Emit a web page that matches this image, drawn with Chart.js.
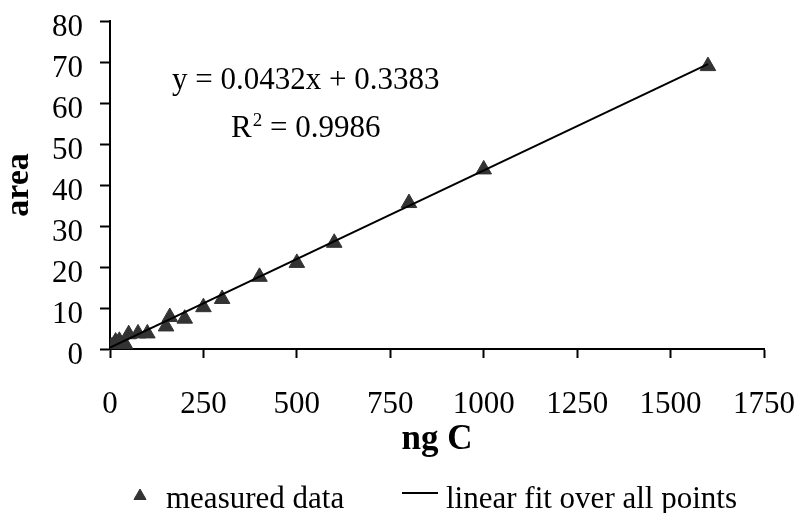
<!DOCTYPE html>
<html>
<head>
<meta charset="utf-8">
<script src="https://cdn.jsdelivr.net/npm/chart.js@4/dist/chart.umd.min.js"></script>
<style>
    html, body { margin: 0; padding: 0; background: #fff; }
    #wrap { width: 798px; height: 513px; }
</style>
</head>
<body>
<div id="wrap"><canvas id="calibChart" width="798" height="513"></canvas></div>
<script>
// measured calibration points
const massNgC = [0, 2, 5, 10, 15, 20, 25, 40, 50, 75, 100, 150, 160, 200, 250, 300, 400, 500, 600, 800, 1000, 1600];
const peakArea = [0.2, 0.4, 0.6, 1.0, 1.8, 1.3, 2.0, 1.2, 3.6, 3.8, 3.8, 5.5, 7.8, 7.4, 10.2, 12.2, 17.6, 21.0, 25.9, 35.6, 43.8, 69.0];

// linear fit over all points, end points of the drawn line
const fitX = [0, 1600];
const fitY = [0.34, 69.46];

// axis ticks
const xTicks = [0, 250, 500, 750, 1000, 1250, 1500, 1750];
const yTicks = [0, 10, 20, 30, 40, 50, 60, 70, 80];

const serif = '"Liberation Serif", "Times New Roman", serif';

// equation text + legend, drawn the way the spreadsheet did
const calibText = {
    id: 'calibText',
    afterDraw(chart) {
        const ctx = chart.ctx;
        ctx.save();
        ctx.fillStyle = '#000';
        ctx.textBaseline = 'alphabetic';
        ctx.textAlign = 'left';

        // trendline label
        ctx.font = '31px ' + serif;
        ctx.fillText('y = 0.0432x + 0.3383', 172, 89);
        ctx.fillText('R', 231, 137);
        let x = 231 + ctx.measureText('R').width;
        ctx.font = '19px ' + serif;
        ctx.fillText('2', x + 1, 126);
        x += 1 + ctx.measureText('2').width;
        ctx.font = '31px ' + serif;
        ctx.fillText(' = 0.9986', x, 137);

        // legend
        const ds = chart.data.datasets;
        ctx.fillStyle = ds[0].backgroundColor;
        ctx.strokeStyle = ds[0].borderColor;
        Chart.helpers.drawPoint(ctx, { pointStyle: 'triangle', radius: 7, borderWidth: 1 }, 140, 496);
        ctx.fillStyle = '#000';
        ctx.fillText(ds[0].label, 166, 508);

        ctx.strokeStyle = ds[1].borderColor;
        ctx.lineWidth = 2;
        ctx.beginPath();
        ctx.moveTo(402, 493);
        ctx.lineTo(438, 493);
        ctx.stroke();
        ctx.fillText(ds[1].label, 446, 508);
        ctx.restore();
    }
};

const ctx = document.getElementById('calibChart').getContext('2d');

new Chart(ctx, {
    type: 'scatter',
    data: {
        datasets: [
            {
                label: 'measured data',
                data: massNgC.map((m, i) => ({ x: m, y: peakArea[i] })),
                pointStyle: 'triangle',
                pointRadius: 9,
                backgroundColor: '#333333',
                borderColor: '#333333',
                borderWidth: 1,
                order: 2
            },
            {
                label: 'linear fit over all points',
                type: 'line',
                data: fitX.map((m, i) => ({ x: m, y: fitY[i] })),
                borderColor: '#000000',
                borderWidth: 2,
                pointRadius: 0,
                fill: false,
                order: 1
            }
        ]
    },
    options: {
        responsive: false,
        animation: false,
        layout: { padding: { top: 21, right: 34, left: 0, bottom: 0 } },
        plugins: {
            legend: { display: false },
            tooltip: { enabled: false }
        },
        scales: {
            x: {
                type: 'linear',
                min: 0,
                max: 1750,
                afterBuildTicks: scale => { scale.ticks = xTicks.map(v => ({ value: v })); },
                afterFit: scale => {
                    scale.height = 164;
                    scale.paddingLeft = 0;
                    scale.paddingRight = 0;
                },
                grid: { drawOnChartArea: false, drawTicks: true, tickLength: 9, color: '#000', tickWidth: 2 },
                border: { display: true, color: '#000', width: 2 },
                ticks: {
                    color: '#000', font: { family: serif, size: 31 }, padding: 28,
                    maxRotation: 0, autoSkip: false, callback: v => String(v)
                },
                title: {
                    display: true,
                    text: 'ng C',
                    color: '#000',
                    font: { family: serif, size: 35, weight: 'bold', lineHeight: 1 },
                    padding: { top: 0, bottom: 56 }
                }
            },
            y: {
                min: 0,
                max: 80,
                afterBuildTicks: scale => { scale.ticks = yTicks.map(v => ({ value: v })); },
                afterFit: scale => {
                    scale.width = 110;
                    scale.paddingTop = 0;
                    scale.paddingBottom = 0;
                },
                grid: { drawOnChartArea: false, drawTicks: true, tickLength: 10, color: '#000', tickWidth: 2 },
                border: { display: true, color: '#000', width: 2 },
                ticks: {
                    color: '#000', font: { family: serif, size: 31 }, padding: 17, labelOffset: 7,
                    autoSkip: false, callback: v => String(v)
                },
                title: {
                    display: true,
                    text: 'area',
                    color: '#000',
                    font: { family: serif, size: 34, weight: 'bold', lineHeight: 1 },
                    padding: { top: 2, bottom: 0 }
                }
            }
        }
    },
    plugins: [calibText]
});
</script>
</body>
</html>
